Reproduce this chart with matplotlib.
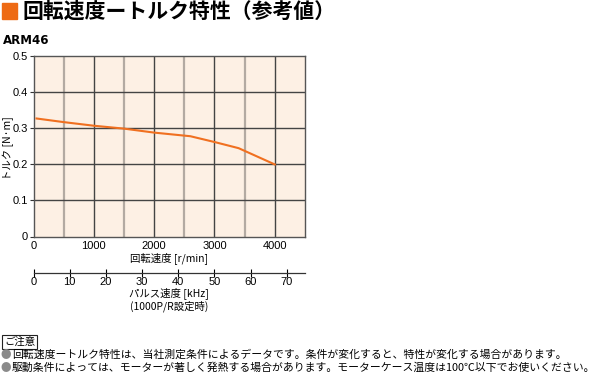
import matplotlib
matplotlib.use("Agg")
import matplotlib.pyplot as plt
from matplotlib.patches import Rectangle

plt.rcParams['font.family'] = ['Noto Sans CJK JP', 'DejaVu Sans']

# Data
speed_rpm = [50, 500, 1000, 1500, 2000, 2600, 3000, 3400, 4000]
torque_nm = [0.326, 0.316, 0.306, 0.298, 0.287, 0.277, 0.261, 0.244, 0.199]

x_ticks = [0, 1000, 2000, 3000, 4000]
y_ticks = [0, 0.1, 0.2, 0.3, 0.4, 0.5]
y_tick_labels = ["0", "0.1", "0.2", "0.3", "0.4", "0.5"]
pulse_ticks = [0, 10, 20, 30, 40, 50, 60, 70]

title = "回転速度ートルク特性（参考値）"
model = "ARM46"
notes = [
    "回転速度ートルク特性は、当社測定条件によるデータです。条件が変化すると、特性が変化する場合があります。",
    "駆動条件によっては、モーターが著しく発熱する場合があります。モーターケース温度は100℃以下でお使いください。",
]

W, H = 602, 378
fig = plt.figure(figsize=(W / 100, H / 100), dpi=100)


def px(x, y, w, h):
    # pixel box (top-left origin) -> figure fraction
    return [x / W, 1 - (y + h) / H, w / W, h / H]


ORANGE = "#EE6A14"
NUM_FONT = ['Liberation Sans Narrow', 'Liberation Sans', 'DejaVu Sans']

# header
fig.patches.append(Rectangle((2 / W, 1 - 19 / H), 15 / W, 16 / H,
                             transform=fig.transFigure, color=ORANGE))
fig.text(22 / W, 1 - 11 / H, title, fontsize=15, fontweight="bold",
         va="center", ha="left")
fig.text(3 / W, 1 - 40 / H, model, fontsize=8.5, fontweight="bold",
         va="center", ha="left", family=['DejaVu Sans'])

# main chart
ax = fig.add_axes(px(33.5, 55.5, 271.5, 181))
ax.set_facecolor("#FDF0E4")
ax.set_xlim(0, 4500)
ax.set_ylim(0, 0.5)
for v in range(500, 4500, 1000):
    ax.axvline(v, color="#B3AAA2", lw=1.6, zorder=1)
for v in range(1000, 4500, 1000):
    ax.axvline(v, color="#444444", lw=1.0, zorder=1)
for v in y_ticks[1:-1]:
    ax.axhline(v, color="#444444", lw=1.0, zorder=1)
ax.plot(speed_rpm, torque_nm, color="#F07020", lw=1.5, zorder=3)

for s in ax.spines.values():
    s.set_color("#555555")
    s.set_linewidth(1.0)
ax.set_xticks(x_ticks)
ax.set_xticklabels([str(t) for t in x_ticks], family=NUM_FONT, fontsize=8)
ax.set_yticks(y_ticks)
ax.set_yticklabels(y_tick_labels, family=NUM_FONT, fontsize=8)
ax.tick_params(length=3, width=0.8, color="#333333", pad=1)
ax.tick_params(axis="x", length=0, pad=3)
ax.set_xlabel("回転速度 [r/min]", fontsize=7.5, labelpad=1)
ax.set_ylabel("トルク [N·m]", fontsize=7.5)
ax.yaxis.set_label_coords(-0.072, 0.49)

# pulse speed axis
ax2 = fig.add_axes(px(33.5, 271.5, 271.5, 1))
ax2.set_xlim(0, 4500 / 60)
ax2.set_ylim(0, 1)
for name in ["top", "left", "right"]:
    ax2.spines[name].set_visible(False)
ax2.spines["bottom"].set_color("#333333")
ax2.spines["bottom"].set_linewidth(0.9)
ax2.patch.set_alpha(0)
ax2.set_yticks([])
ax2.set_xticks(pulse_ticks)
ax2.set_xticklabels([str(t) for t in pulse_ticks], family=NUM_FONT, fontsize=8)
ax2.tick_params(axis="x", direction="inout", length=6, width=0.8, pad=0)
fig.text(169 / W, 1 - 293 / H, "パルス速度 [kHz]", fontsize=7.5, ha="center", va="center")
fig.text(169 / W, 1 - 306 / H, "(1000P/R設定時)", fontsize=7.5, ha="center", va="center")

# notes
fig.text(4 / W, 1 - 342 / H, "ご注意", fontsize=7.5, ha="left", va="center",
         bbox=dict(boxstyle="square,pad=0.15", fc="white", ec="#222222", lw=0.8))
for i, line in enumerate(notes):
    y = 1 - (355 + 13 * i) / H
    fig.text(0 / W, y, "●", fontsize=7.6, color="#8A8A8A", ha="left", va="center")
    fig.text(12 / W, y, line, fontsize=7.8, ha="left", va="center")

fig.savefig("out.png", dpi=100)
